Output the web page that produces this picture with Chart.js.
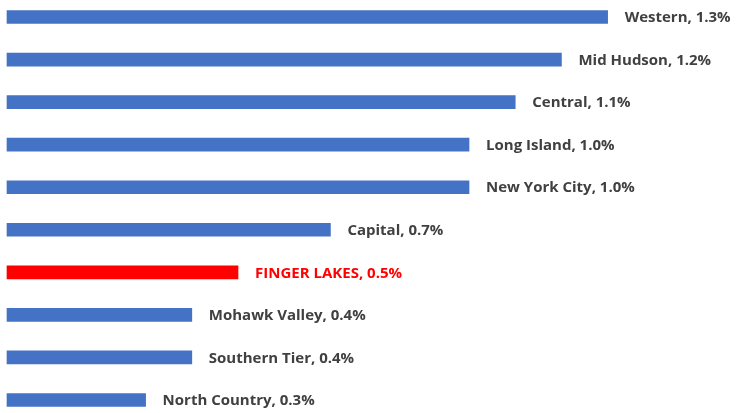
<!DOCTYPE html>
<html>
<head>
<meta charset="utf-8">
<script src="https://cdn.jsdelivr.net/npm/chart.js@4.4.1/dist/chart.umd.min.js"></script>
<style>
  html, body { margin: 0; padding: 0; background: #fff; }
  #wrap { width: 737px; height: 413px; position: relative; }
</style>
</head>
<body>
<div id="wrap"><canvas id="myChart"></canvas></div>
<script>
var regions = ['Western', 'Mid Hudson', 'Central', 'Long Island', 'New York City',
               'Capital', 'FINGER LAKES', 'Mohawk Valley', 'Southern Tier', 'North Country'];
var shares = [1.3, 1.2, 1.1, 1.0, 1.0, 0.7, 0.5, 0.4, 0.4, 0.3];
var highlight = 'FINGER LAKES';

var barColors = regions.map(function (r) { return r === highlight ? '#ff0000' : '#4472c4'; });

// draw "Name, x.x%" to the right of each bar
var endLabels = {
  id: 'endLabels',
  afterDatasetsDraw: function (chart) {
    var ctx = chart.ctx;
    var meta = chart.getDatasetMeta(0);
    ctx.save();
    ctx.font = 'bold 15px "Open Sans", Lato, sans-serif';
    ctx.textBaseline = 'middle';
    ctx.textAlign = 'left';
    meta.data.forEach(function (bar, i) {
      ctx.fillStyle = regions[i] === highlight ? '#ff0000' : '#404040';
      ctx.fillText(regions[i] + ', ' + shares[i].toFixed(1) + '%', bar.x + 17, bar.y + 1);
    });
    ctx.restore();
  }
};

var config = {
  type: 'bar',
  data: {
    labels: regions,
    datasets: [{
      data: shares,
      backgroundColor: barColors,
      borderWidth: 0,
      barThickness: 13,
      clip: false
    }]
  },
  options: {
    indexAxis: 'y',
    responsive: true,
    maintainAspectRatio: false,
    animation: false,
    layout: { padding: { left: 7, right: 0, top: 17, bottom: 13 } },
    plugins: {
      legend: { display: false },
      tooltip: { enabled: false }
    },
    scales: {
      x: { display: false, min: 0, max: 1.58 },
      y: { display: false, offset: false }
    }
  },
  plugins: [endLabels]
};

var myNewChart = new Chart(document.getElementById('myChart').getContext('2d'), config);
</script>
</body>
</html>
